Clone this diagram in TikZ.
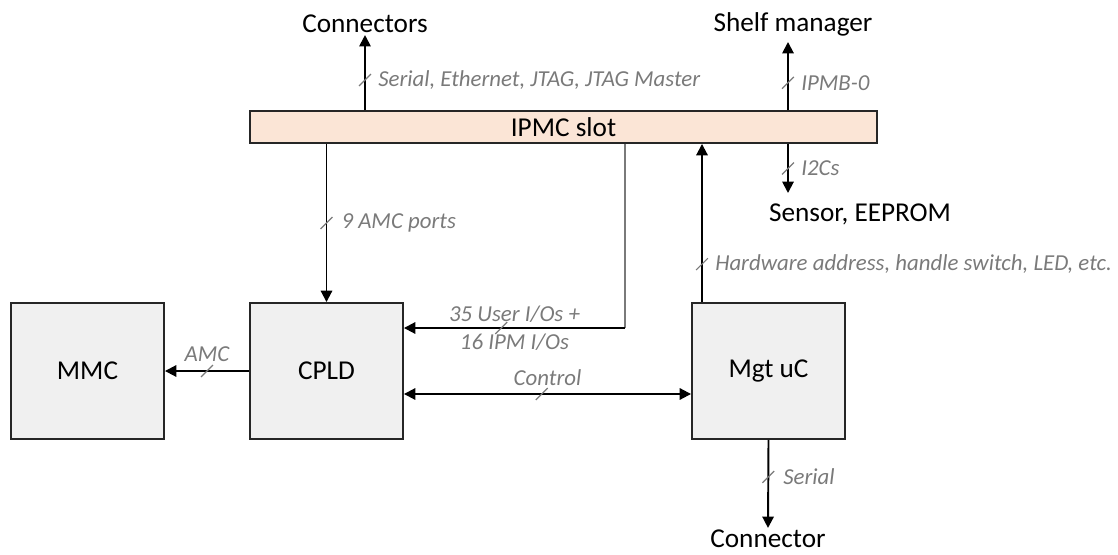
\documentclass[tikz,border=0pt]{standalone}
\usepackage{fontspec}
\setmainfont{Carlito}
\usepackage{xcolor}
\usepackage{tikz}
\usetikzlibrary{positioning, arrows.meta}

\definecolor{slotfill}{HTML}{FBE5D6}
\definecolor{boxfill}{HTML}{F0F0F0}
\definecolor{busgray}{HTML}{7A7A7A}

\begin{document}
\begin{tikzpicture}[x=0.02cm, y=-0.02cm]
					\tikzstyle{block}=[draw=black!85, fill=boxfill, line width=1.1pt, minimum width=3.06cm, minimum height=2.72cm, font=\fontsize{15.5}{17}\selectfont]
					\tikzstyle{port}=[inner sep=1pt, font=\fontsize{15.5}{17}\selectfont]
					\tikzstyle{lab}=[text=busgray, inner sep=2pt, font=\fontsize{13}{16}\selectfont\itshape]
					\tikzstyle{slash}=[draw=busgray, line width=0.7pt, minimum width=9.5pt, minimum height=0pt, inner sep=0pt, rotate=45]
					\tikzstyle{sig}=[line width=1.1pt, -{Triangle[length=6.5pt,width=6.5pt]}]
					\useasboundingbox (0,0) rectangle (1118,554);
					\node[draw=black!85, fill=slotfill, line width=1.1pt, minimum width=12.54cm, minimum height=0.64cm, font=\fontsize{15.5}{17}\selectfont](ipmc) at (563.5,127){IPMC slot};
					\node[block](mmc) at (87.5,371){MMC};
					\node[block](cpld) at (326.5,371){CPLD};
					\node[block](mgt) at (768.5,371){Mgt uC};
					\node[port](conn) at (365,24){Connectors};
					\node[port](shelf) at (793,24){Shelf manager};
					\node[port](sensor) at (860,214){Sensor, EEPROM};
					\node[port](connb) at (768,539){Connector};
					\coordinate (shelfin) at (788,42);
					\coordinate (i2cout) at (788,193);
					\coordinate (hw) at (702,0);
					\coordinate (uio) at (625,328);
					\path[sig]
						(ipmc.north -| conn) edge node[slash, pos=.4]{} node[lab, right=5pt, pos=.4]{Serial, Ethernet, JTAG, JTAG Master}(conn.south)
						(ipmc.north -| shelfin) edge node[slash, pos=.4]{} node[lab, right=5pt, pos=.4]{IPMB-0}(shelfin)
						(ipmc.south -| i2cout) edge node[slash]{} node[lab, right=5pt]{I2Cs}(i2cout)
						(ipmc.south -| cpld) edge node[slash]{} node[lab, right=6pt]{9 AMC ports}(cpld.north)
						(mgt.north -| hw) edge node[slash, pos=.24]{} node[lab, right=5pt, pos=.24]{Hardware address, handle switch, LED, etc.}(ipmc.south -| hw)
						(cpld.west) edge node[slash]{} node[lab, above=3pt]{AMC}(mmc.east)
						(mgt.south) edge node[slash, pos=.42]{} node[lab, right=6pt, pos=.42]{Serial}(connb.north);
					\draw[busgray, line width=0.8pt] (ipmc.south -| uio) -- (uio);
					\path[sig]
						(uio) edge node[slash, pos=.56]{} node[lab, align=center]{35 User I/Os +\\16 IPM I/Os}(cpld.east |- uio);
					\path[sig, {Triangle[length=6.5pt,width=6.5pt]}-{Triangle[length=6.5pt,width=6.5pt]}]
						([yshift=-0.46cm]cpld.east) edge node[slash, pos=.48]{} node[lab, above=2pt]{Control}([yshift=-0.46cm]mgt.west);
				\end{tikzpicture}
\end{document}
